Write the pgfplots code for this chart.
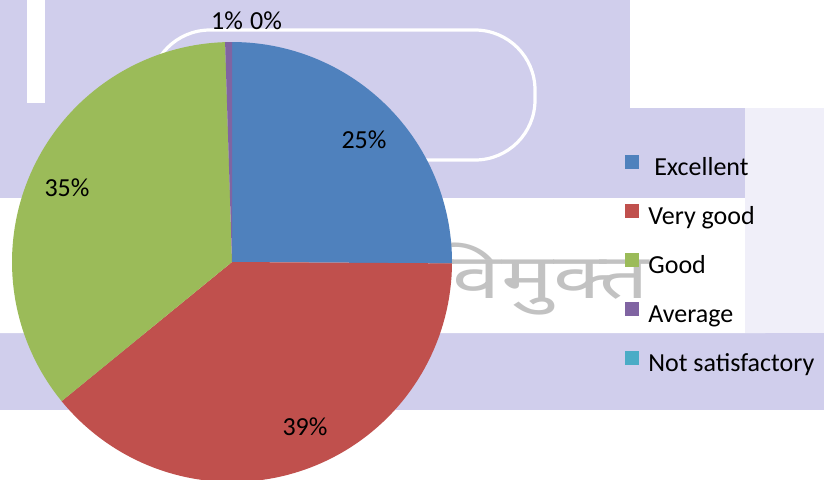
\documentclass[border=0pt]{standalone}
\usepackage{pgfplots}
\usepackage{pgfplotstable}
\pgfplotsset{compat=1.18}
\usepackage{fontspec}
\setmainfont{Carlito}
\newfontfamily\devfont[Script=Devanagari]{Noto Sans}
\definecolor{cExc}{HTML}{4F81BD}
\definecolor{cVG}{HTML}{C0504D}
\definecolor{cGood}{HTML}{9BBB59}
\definecolor{cAvg}{HTML}{8064A2}
\definecolor{cNS}{HTML}{4BACC6}
\definecolor{lav}{RGB}{208,206,236}
\definecolor{lavlight}{RGB}{240,239,249}

\pgfplotstableread{
category value
Excellent 25.1
Verygood 39.0
Good 35.4
Average 0.5
Notsatisfactory 0
}\piedata

\newcommand\lblfont{\fontsize{13}{15.6}\selectfont}

\begin{document}
\begin{tikzpicture}
\begin{scope}[x=0.5pt,y=-0.5pt]
\useasboundingbox (0,0) rectangle (824,479);
% faint watermark background
\fill[lav] (0,0) rectangle (824,410);
\fill[white] (27,0) rectangle (45,103);
\fill[white] (630,0) rectangle (824,108);
\fill[lavlight] (745,108) rectangle (824,198);
\fill[white, rounded corners=20pt] (-40,198) rectangle (805,333);
\fill[lavlight] (745,198) rectangle (824,333);
\draw[white, line width=1.6pt, rounded corners=30pt] (150,30) rectangle (535,160);
\node[anchor=base west, text=black!24, inner sep=0pt] at (430,298) {\scalebox{1.4}[1]{\devfont\fontsize{31}{36}\selectfont विमुक्त}};
\end{scope}

\pgfplotstablegetelem{0}{value}\of\piedata \edef\vA{\pgfplotsretval}
\pgfplotstablegetelem{1}{value}\of\piedata \edef\vB{\pgfplotsretval}
\pgfplotstablegetelem{2}{value}\of\piedata \edef\vC{\pgfplotsretval}
\pgfplotstablegetelem{3}{value}\of\piedata \edef\vD{\pgfplotsretval}
\pgfmathsetmacro\aA{90}
\pgfmathsetmacro\aB{\aA-3.6*\vA}
\pgfmathsetmacro\aC{\aB-3.6*\vB}
\pgfmathsetmacro\aD{\aC-3.6*\vC}
\pgfmathsetmacro\aE{\aD-3.6*\vD}

\begin{axis}[
  at={(0pt,-239.5pt)}, anchor=south west,
  width=412pt, height=239.5pt, scale only axis,
  xmin=0, xmax=824, ymin=0, ymax=479,
  hide axis,
  legend cell align=left,
  legend image code/.code={\fill[#1, draw=none] (0pt,-0.5pt) rectangle (7pt,6.5pt);},
  legend style={at={(0.7585,0.6764)}, anchor=north west, draw=none, fill=none,
    inner sep=0pt, row sep=11.5pt, column sep=4.5pt,
    font=\lblfont, nodes={inner sep=0pt, text height=10pt, text depth=3pt}},
]
\addplot[forget plot, fill=cExc, draw=none, domain=\aB:\aA, samples=60, variable=\t]
  ({232+220*cos(\t)},{217+220*sin(\t)}) -- (axis cs:232,217) -- cycle;
\addplot[forget plot, fill=cVG, draw=none, domain=\aC:\aB, samples=80, variable=\t]
  ({232+220*cos(\t)},{217+220*sin(\t)}) -- (axis cs:232,217) -- cycle;
\addplot[forget plot, fill=cGood, draw=none, domain=\aD:\aC, samples=80, variable=\t]
  ({232+220*cos(\t)},{217+220*sin(\t)}) -- (axis cs:232,217) -- cycle;
\addplot[forget plot, fill=cAvg, draw=none, domain=\aE:\aD, samples=5, variable=\t]
  ({232+220*cos(\t)},{217+220*sin(\t)}) -- (axis cs:232,217) -- cycle;

\addlegendimage{fill=cExc}\addlegendentry{\ Excellent}
\addlegendimage{fill=cVG}\addlegendentry{Very good}
\addlegendimage{fill=cGood}\addlegendentry{Good}
\addlegendimage{fill=cAvg}\addlegendentry{Average}
\addlegendimage{fill=cNS}\addlegendentry{Not satisfactory}

\node[font=\lblfont] at (axis cs:364,339) {25\%};
\node[font=\lblfont] at (axis cs:67,291) {35\%};
\node[font=\lblfont] at (axis cs:305,52) {39\%};
\node[font=\lblfont] at (axis cs:227,458) {1\%};
\node[font=\lblfont] at (axis cs:266,458) {0\%};
\end{axis}
\end{tikzpicture}
\end{document}
